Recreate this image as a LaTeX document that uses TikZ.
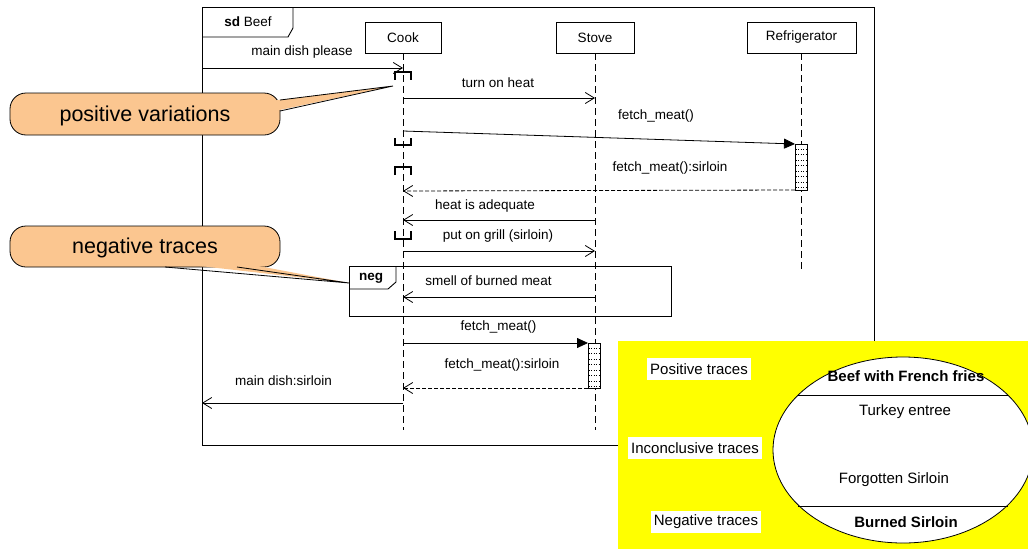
\documentclass[tikz,border=0pt]{standalone}
\usepackage{fontspec}
\setmainfont{Liberation Sans}
\usetikzlibrary{arrows.meta}
\definecolor{calloutfill}{HTML}{FBC690}
\definecolor{setyellow}{HTML}{FFFF00}
\begin{document}
\begin{tikzpicture}[x=1pt,y=-1pt,
  lbl/.style={font=\fontsize{13.5}{15}\selectfont, inner sep=0pt},
  head/.style={draw, line width=0.9pt, minimum height=31pt, font=\fontsize{13.5}{15}\selectfont, inner sep=0pt},
  life/.style={dash pattern=on 7pt off 4pt, line width=0.8pt},
  msg/.style={line width=0.8pt, -{Straight Barb[length=9pt,width=11pt]}},
  ret/.style={msg, dash pattern=on 4pt off 2pt},
  callmsg/.style={line width=0.8pt, -{Triangle[length=11pt,width=10pt]}},
  brk/.style={line width=2pt},
  frm/.style={draw, line width=0.9pt},
  actbox/.style={draw, fill=white, line width=0.8pt},
  bubble/.style={fill=calloutfill, draw, line width=0.8pt, rounded corners=16pt},
  bubbletxt/.style={font=\fontsize{21.5}{24}\selectfont, inner sep=0pt},
  trace/.style={fill=white, font=\fontsize{15}{17}\selectfont, inner xsep=3pt, minimum height=22pt},
  settxt/.style={font=\fontsize{15}{17}\selectfont, inner sep=0pt}
]
\useasboundingbox (0,0) rectangle (1028,549);

% interaction frame and its name tab
\draw[frm] (202,7) rectangle (874,445);
\draw[frm] (202,37) -- (288,37) -- (293,28) -- (293,7);
\node[lbl] (sdname) at (248,22) {\textbf{sd} Beef};

% lifeline heads
\node[head, minimum width=76pt] (cook) at (403,37.5) {Cook};
\node[head, minimum width=78pt] (stove) at (595,37.5) {Stove};
\node[head, minimum width=109pt] (fridge) at (801.5,37.5) {Refrigerator};

\coordinate (cookend) at (403,430);
\coordinate (stoveend) at (595,430);
\coordinate (fridgeend) at (801.5,272);
\draw[life] (cook.south) -- (cookend);
\draw[life] (stove.south) -- (stoveend);
\draw[life] (fridge.south) -- (fridgeend);

% neg fragment
\draw[frm] (349,266) rectangle (671,316);
\draw[frm] (349,289) -- (388,289) -- (396,282) -- (396,266);
\node[lbl] (negname) at (371,278) {\textbf{neg}};

% execution occurrences
\node[actbox, minimum width=12pt, minimum height=46pt, inner sep=0pt] (fridgeact) at (801,167) {};
\foreach \yy in {149,154.5,160,165.5,171,176.5,182,187.5}
  \draw[dotted, line width=0.6pt] (795.5,\yy) -- (806.5,\yy);
\node[actbox, minimum width=12pt, minimum height=45pt, inner sep=0pt] (stoveact) at (594,365.5) {};
\foreach \yy in {348,353.5,359,364.5,370,375.5,381,386.5}
  \draw[dotted, line width=0.6pt] (588.5,\yy) -- (599.5,\yy);

% brackets on the Cook lifeline
\draw[brk] (395,80) -- (395,72) -- (411,72) -- (411,80);
\draw[brk] (395,138) -- (395,145) -- (411,145) -- (411,138);
\draw[brk] (395,175) -- (395,167) -- (411,167) -- (411,175);
\draw[brk] (395,231) -- (395,239) -- (411,239) -- (411,231);

% message end points
\coordinate (gate1) at (202,68);   \coordinate (c1) at (403,68);
\coordinate (c2) at (403,98);      \coordinate (s2) at (595,98);
\coordinate (c3) at (403,131);     \coordinate (f3) at (795,144);
\coordinate (f4) at (795,190);     \coordinate (c4) at (403,191);
\coordinate (s5) at (595,220);     \coordinate (c5) at (403,220);
\coordinate (c6) at (403,251);     \coordinate (s6) at (595,251);
\coordinate (s7) at (595,297);     \coordinate (c7) at (403,297);
\coordinate (c8) at (403,343);     \coordinate (s8) at (588,343);
\coordinate (s9) at (588,388);     \coordinate (c9) at (403,388);
\coordinate (c10) at (403,403);    \coordinate (gate10) at (202,403);

% messages
\draw[msg] (gate1) -- (c1);
\node[lbl] (t1) at (302,52) {main dish please};
\draw[msg] (c2) -- (s2);
\node[lbl] (t2) at (498,83) {turn on heat};
\draw[callmsg] (c3) -- (f3);
\node[lbl] (t3) at (656,116) {fetch\_meat()};
\draw[ret] (f4) -- (c4);
\node[lbl] (t4) at (670,168) {fetch\_meat():sirloin};
\draw[msg] (s5) -- (c5);
\node[lbl] (t5) at (485,206) {heat is adequate};
\draw[msg] (c6) -- (s6);
\node[lbl] (t6) at (498,236.5) {put on grill (sirloin)};
\draw[msg] (s7) -- (c7);
\node[lbl] (t7) at (488.5,280.5) {smell of burned meat};
\draw[callmsg] (c8) -- (s8);
\node[lbl] (t8) at (498.5,327) {fetch\_meat()};
\draw[ret] (s9) -- (c9);
\node[lbl] (t9) at (502,365) {fetch\_meat():sirloin};
\draw[msg] (c10) -- (gate10);
\node[lbl] (t10) at (283.5,381) {main dish:sirloin};

% callouts
\draw[bubble] (10,93) rectangle (280,135);
\coordinate (postip) at (393,86);
\fill[calloutfill] (275,100.5) -- (postip) -- (275,111) -- cycle;
\draw[line width=0.8pt] (280,100) -- (postip) -- (280,111);
\node[bubbletxt] (posvar) at (145,116) {positive variations};

\draw[bubble] (10,226) rectangle (280,267);
\coordinate (negtip) at (349,283);
\fill[calloutfill] (165,262) -- (237,262) -- (negtip) -- cycle;
\draw[line width=0.8pt] (237,267) -- (negtip) -- (165,267);
\node[bubbletxt] (negtr) at (145,248) {negative traces};

% trace sets
\fill[setyellow] (618,341) rectangle (1028,549);
\begin{scope}
  \clip (618,341) rectangle (1028,549);
  \draw[fill=white, line width=0.8pt] (903,450) ellipse [x radius=130, y radius=93];
  \draw[line width=0.9pt] (798,395) -- (1008,395);
  \draw[line width=0.9pt] (798,506) -- (1008,506);
\end{scope}
\node[settxt] (beef) at (906,376) {\textbf{Beef with French fries}};
\node[settxt] (turkey) at (905,412) {Turkey entree};
\node[settxt] (forgot) at (894,480) {Forgotten Sirloin};
\node[settxt] (burned) at (906,522) {\textbf{Burned Sirloin}};
\node[trace] (postr) at (699,369) {Positive traces};
\node[trace] (inctr) at (695,448) {Inconclusive traces};
\node[trace] (negtr2) at (706,522) {Negative traces};
\end{tikzpicture}
\end{document}
